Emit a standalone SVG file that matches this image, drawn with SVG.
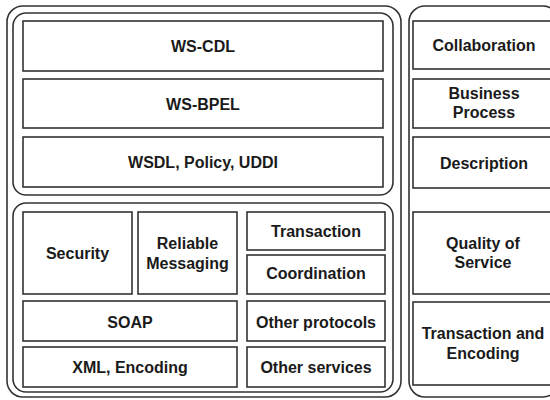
<svg xmlns="http://www.w3.org/2000/svg" width="550" height="400" viewBox="0 0 550 400">
  <style>
    .frame { fill: #fff; stroke: #333; stroke-width: 1.6; }
    .box { fill: #fff; stroke: #333; stroke-width: 1.6; }
    .lbl { font-family: "Liberation Sans", Arial, sans-serif; font-weight: bold; font-size: 16px; fill: #1a1a1a; text-anchor: middle; }
  </style>
  <rect width="550" height="400" fill="#fff"/>

  <!-- frames -->
  <g id="frames">
    <rect class="frame" x="7" y="6" width="394" height="391" rx="16"/>
    <rect class="frame" x="13" y="13" width="380" height="182" rx="13"/>
    <rect class="frame" x="13" y="203" width="380" height="189" rx="13"/>
    <rect class="frame" x="409" y="6" width="150" height="391" rx="16"/>
  </g>

  <g id="connectors"/>

  <!-- upper stack -->
  <g id="ws-cdl"><rect class="box" x="23" y="21" width="360" height="50"/><text class="lbl" x="203" y="51.5">WS-CDL</text></g>
  <g id="ws-bpel"><rect class="box" x="23" y="79" width="360" height="49"/><text class="lbl" x="203" y="109.5">WS-BPEL</text></g>
  <g id="wsdl"><rect class="box" x="23" y="137" width="360" height="50"/><text class="lbl" x="203" y="167.5">WSDL, Policy, UDDI</text></g>

  <!-- lower stack -->
  <g id="security"><rect class="box" x="23" y="212" width="109" height="82"/><text class="lbl" x="77.5" y="258.5">Security</text></g>
  <g id="reliable-messaging"><rect class="box" x="138" y="212" width="99" height="82"/><text class="lbl" x="187.5" y="248.5">Reliable</text><text class="lbl" x="187.5" y="268.5">Messaging</text></g>
  <g id="transaction"><rect class="box" x="247" y="212" width="138" height="38"/><text class="lbl" x="316" y="236.5">Transaction</text></g>
  <g id="coordination"><rect class="box" x="247" y="255" width="138" height="39"/><text class="lbl" x="316" y="278.5">Coordination</text></g>
  <g id="soap"><rect class="box" x="23" y="301" width="214" height="40"/><text class="lbl" x="130" y="327.5">SOAP</text></g>
  <g id="other-protocols"><rect class="box" x="247" y="301" width="138" height="40"/><text class="lbl" x="316" y="327.5">Other protocols</text></g>
  <g id="xml-encoding"><rect class="box" x="23" y="347" width="214" height="40"/><text class="lbl" x="130" y="372.5">XML, Encoding</text></g>
  <g id="other-services"><rect class="box" x="247" y="347" width="138" height="40"/><text class="lbl" x="316" y="372.5">Other services</text></g>

  <!-- right column -->
  <g id="collaboration"><rect class="box" x="413" y="21" width="150" height="48"/><text class="lbl" x="484" y="50.5">Collaboration</text></g>
  <g id="business-process"><rect class="box" x="413" y="79" width="150" height="49"/><text class="lbl" x="484" y="98.5">Business</text><text class="lbl" x="484" y="118">Process</text></g>
  <g id="description"><rect class="box" x="413" y="137" width="150" height="51"/><text class="lbl" x="484" y="168.5">Description</text></g>
  <g id="quality-of-service"><rect class="box" x="413" y="212" width="150" height="82"/><text class="lbl" x="483" y="248.5">Quality of</text><text class="lbl" x="483" y="267.5">Service</text></g>
  <g id="transaction-encoding"><rect class="box" x="413" y="302" width="150" height="83"/><text class="lbl" x="483" y="338.5">Transaction and</text><text class="lbl" x="483" y="358.5">Encoding</text></g>
</svg>
